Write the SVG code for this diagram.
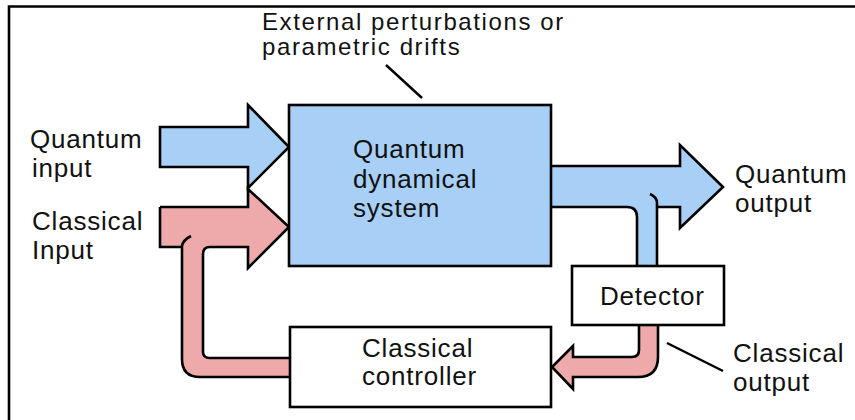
<svg xmlns="http://www.w3.org/2000/svg" width="855" height="420" viewBox="0 0 855 420">
<style>
.t{font-family:"Liberation Sans",Arial,sans-serif;font-size:26px;letter-spacing:0.8px;fill:#111}
.top{font-size:24px;letter-spacing:1.6px}
.s{fill:none;stroke:#000;stroke-width:2.6;stroke-linejoin:miter}
.blue{fill:#a8cff5}
.pink{fill:#eeaaaa}
.box{stroke:#000;stroke-width:2.6}
</style>
<rect width="855" height="420" fill="#fff"/>
<g id="frame"><path d="M9,420 V6.5 H855" fill="none" stroke="#000" stroke-width="2.6"/></g>
<g id="connectors">
  <g id="quantum-input-arrow">
    <path class="blue" d="M160,127 H248 V105 L289,147 L248,188 V167 H160 Z"/>
    <path class="s" d="M160,127 H248 V105 L289,147 L248,188 V167 H160 Z"/>
  </g>
  <g id="classical-input-arrow">
    <path class="pink" d="M160,207 H248 V189 L289,227 L248,268 V247 H210 Q203,247 203,254 V352 Q203,358 210,358 H291 V377 H200 Q182,377 182,359 V247 H160 Z"/>
    <path class="s" d="M160,207 H248 V189 L289,227 L248,268 V247 H210 Q203,247 203,254 V352 Q203,358 210,358 H290 M290,377 H200 Q182,377 182,359 V246 Q183,240 191,236 M160,207 V247 H182"/>
  </g>
  <g id="quantum-output-arrow">
    <path class="blue" d="M550,166 H680 V145 L723,187 L680,228 V207 H657 V267 H637 V217 Q637,207 627,207 H550 Z"/>
    <path class="s" d="M550,166 H680 V145 L723,187 L680,228 V207 H657 M657,266 V203 Q657,197 650,194 M637,266 V217 Q637,207 627,207 H550"/>
  </g>
  <g id="classical-output-arrow">
    <path class="pink" d="M639,324 V350 Q639,357 632,357 H573 V346 L552,367 L573,389 V377 H638 Q658,377 658,357 V324 Z"/>
    <path class="s" d="M639,325 V350 Q639,357 632,357 H573 V346 L552,367 L573,389 V377 H638 Q658,377 658,357 V325"/>
  </g>
  <line x1="386" y1="65" x2="422" y2="98" stroke="#000" stroke-width="2.4"/>
  <line x1="667" y1="343" x2="723" y2="371" stroke="#000" stroke-width="2.4"/>
</g>
<g id="quantum-system">
  <rect class="box blue" x="289" y="105" width="262" height="161"/>
  <text class="t" x="353" y="158">Quantum</text>
  <text class="t" x="353" y="188">dynamical</text>
  <text class="t" x="353" y="217">system</text>
</g>
<g id="detector">
  <rect class="box" fill="#fff" x="572" y="266" width="152" height="59"/>
  <text class="t" x="600" y="305">Detector</text>
</g>
<g id="classical-controller">
  <rect class="box" fill="#fff" x="290" y="327" width="261" height="80"/>
  <text class="t" x="362" y="357">Classical</text>
  <text class="t" x="362" y="385">controller</text>
</g>
<g id="labels">
  <text class="t top" x="262" y="30">External perturbations or</text>
  <text class="t top" x="262" y="55">parametric drifts</text>
  <text class="t" x="30" y="148">Quantum</text>
  <text class="t" x="32" y="177">input</text>
  <text class="t" x="32" y="230">Classical</text>
  <text class="t" x="32" y="259">Input</text>
  <text class="t" x="735" y="183">Quantum</text>
  <text class="t" x="735" y="212">output</text>
  <text class="t" x="733" y="362">Classical</text>
  <text class="t" x="733" y="391">output</text>
</g>
</svg>
